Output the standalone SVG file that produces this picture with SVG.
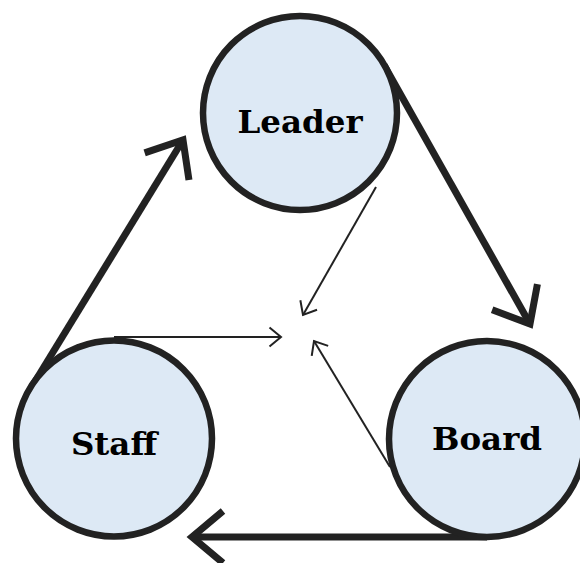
<svg xmlns="http://www.w3.org/2000/svg" width="580" height="563" viewBox="0 0 580 563">
<style>
.node circle{fill:#dde9f5;stroke:#222;stroke-width:6.5}
.node text{font-family:"DejaVu Serif","Liberation Serif",serif;font-weight:bold;font-size:32.5px;fill:#000;text-anchor:middle}
.thick{fill:none;stroke:#222;stroke-width:7;marker-end:url(#bigHead)}
.thin{fill:none;stroke:#222;stroke-width:2;marker-end:url(#smallHead)}
</style>
<defs>
<marker id="bigHead" markerUnits="userSpaceOnUse" viewBox="-40 -35 50 70" refX="0" refY="0" markerWidth="50" markerHeight="70" orient="auto" overflow="visible">
<path d="M-31,-26 L0,0 L-31,26" fill="none" stroke="#222" stroke-width="7" stroke-linejoin="miter"/>
</marker>
<marker id="smallHead" markerUnits="userSpaceOnUse" viewBox="-15 -12 20 24" refX="0" refY="0" markerWidth="20" markerHeight="24" orient="auto" overflow="visible">
<path d="M-11.5,-9.6 L0,0 L-11.5,9.6" fill="none" stroke="#222" stroke-width="2"/>
</marker>
</defs>
<rect width="580" height="563" fill="#fff"/>
<g id="connectors">
<path class="thick" d="M31,388 L183,140"/>
<path class="thick" d="M384,65 L530,324"/>
<path class="thick" d="M487,537 L192,537"/>
<path class="thin" d="M114,337 L281,337"/>
<path class="thin" d="M376,187 L303,315"/>
<path class="thin" d="M390,467 L314,341"/>
</g>
<g id="leader" class="node">
<circle cx="300" cy="113" r="97"/>
<text x="300" y="133">Leader</text>
</g>
<g id="staff" class="node">
<circle cx="114" cy="438.5" r="98"/>
<text x="114" y="455">Staff</text>
</g>
<g id="board" class="node">
<circle cx="487" cy="439" r="98"/>
<text x="487" y="450">Board</text>
</g>
</svg>
